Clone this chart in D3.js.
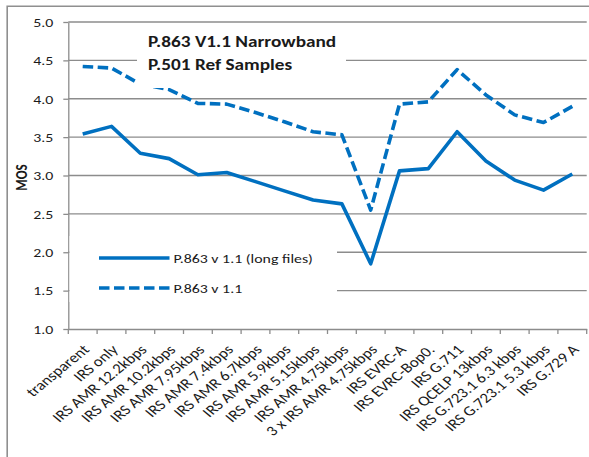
<!DOCTYPE html>
<html>
<head>
<meta charset="utf-8">
<script src="https://cdn.jsdelivr.net/npm/d3@7"></script>
<style>
  body { margin: 0; background: #fff; }
  svg { display: block; }
  text { font-family: Calibri, "Liberation Sans", Arial, sans-serif; fill: #1a1a1a; }
</style>
</head>
<body>
<svg id="chart" width="589" height="457"></svg>
<script>
// Test conditions along the x axis
const categories = [
  "transparent", "IRS only", "IRS AMR 12.2kbps", "IRS AMR 10.2kbps",
  "IRS AMR 7.95kbps", "IRS AMR 7.4kbps", "IRS AMR 6.7kbps", "IRS AMR 5.9kbps",
  "IRS AMR 5.15kbps", "IRS AMR 4.75kbps", "3 x IRS AMR 4.75kbps", "IRS EVRC-A",
  "IRS EVRC-Bop0.", "IRS G.711", "IRS QCELP 13kbps", "IRS G.723.1 6.3 kbps",
  "IRS G.723.1 5.3 kbps", "IRS G.729 A"
];

// MOS predicted by P.863 v1.1 on long files (solid line)
const longFiles = [3.54, 3.64, 3.29, 3.22, 3.01, 3.04, 2.92, 2.80, 2.68, 2.63,
                   1.85, 3.06, 3.09, 3.57, 3.19, 2.94, 2.81, 3.02];

// MOS predicted by P.863 v1.1 (dashed line)
const standard = [4.42, 4.40, 4.19, 4.12, 3.94, 3.93, 3.82, 3.70, 3.57, 3.53,
                  2.55, 3.93, 3.96, 4.38, 4.05, 3.79, 3.69, 3.90];

const yTicks = [1.0, 1.5, 2.0, 2.5, 3.0, 3.5, 4.0, 4.5, 5.0];
const seriesNames = ["P.863 v 1.1 (long files)", "P.863 v 1.1"];
const titleLines = ["P.863 V1.1 Narrowband", "P.501 Ref Samples"];
const yTitle = "MOS";

// Text is drawn slightly wide, as in the original sheet export
const SX = 1.22;
const BLUE = "#0070C0";
const GRID = "#8c8c8c";
const FONT_PX = "13px";

const svg = d3.select("#chart");

const plot = { left: 68.3, right: 586.7, top: 22, bottom: 329 };

const x = d3.scaleBand().domain(categories).range([plot.left, plot.right]).padding(0);
const y = d3.scaleLinear().domain([1, 5]).range([plot.bottom, plot.top]);
const cx = c => x(c) + x.bandwidth() / 2;

// Outer chart frame (only its left and top edges fall inside the view)
svg.append("path")
  .attr("d", `M7.2,${457 + 5}V6.2H${589 + 5}`)
  .attr("fill", "none")
  .attr("stroke", "#8f8f8f")
  .attr("stroke-width", 1.6);

// Horizontal gridlines
svg.append("g")
  .selectAll("line")
  .data(yTicks.filter(t => t > 1))
  .join("line")
  .attr("x1", plot.left).attr("x2", plot.right)
  .attr("y1", d => y(d)).attr("y2", d => y(d))
  .attr("stroke", GRID).attr("stroke-width", 1.3);

// Y axis
const yAxis = svg.append("g")
  .attr("transform", `translate(${plot.left},0)`)
  .call(d3.axisLeft(y).tickValues(yTicks).tickSize(5).tickSizeOuter(0)
    .tickFormat(d3.format(".1f")));
yAxis.select(".domain").attr("stroke", GRID).attr("stroke-width", 1.3);
yAxis.selectAll(".tick line").attr("stroke", GRID).attr("stroke-width", 1.3);
yAxis.selectAll(".tick text")
  .attr("x", 0).attr("dy", null)
  .attr("transform", `translate(-15,4.3) scale(${SX},1)`)
  .attr("text-anchor", "end")
  .style("font-size", FONT_PX)
  .attr("fill", "#1a1a1a");

// X axis: labels at band centres
const xAxis = svg.append("g")
  .attr("transform", `translate(0,${plot.bottom})`)
  .call(d3.axisBottom(x).tickSize(0).tickSizeOuter(0));
xAxis.select(".domain").attr("stroke", GRID).attr("stroke-width", 1.3);
xAxis.selectAll(".tick text")
  .attr("y", 0).attr("dy", null)
  .attr("transform", `translate(7.5,21.5) scale(${SX},1) rotate(-45)`)
  .attr("text-anchor", "end")
  .style("font-size", "14px")
  .attr("fill", "#1a1a1a");

// X axis tick marks sit on the band boundaries
const boundaries = categories.map(c => x(c)).concat([x.range()[1]]);
svg.append("g")
  .selectAll("line")
  .data(boundaries)
  .join("line")
  .attr("x1", d => d).attr("x2", d => d)
  .attr("y1", plot.bottom).attr("y2", plot.bottom + 5)
  .attr("stroke", GRID).attr("stroke-width", 1.3);

// Y axis title
svg.append("text")
  .attr("transform", `translate(26.5,${(plot.top + plot.bottom) / 2 + 2}) scale(${SX},1) rotate(-90)`)
  .attr("text-anchor", "middle")
  .style("font-size", "13px")
  .style("font-weight", "bold")
  .attr("fill", "#000")
  .text(yTitle);

// Series lines
const line = d3.line()
  .x((d, i) => cx(categories[i]))
  .y(d => y(d));

svg.append("path")
  .datum(standard)
  .attr("d", line)
  .attr("fill", "none")
  .attr("stroke", BLUE)
  .attr("stroke-width", 3.6)
  .attr("stroke-dasharray", "10.5,4.5")
  .attr("stroke-linejoin", "round");

svg.append("path")
  .datum(longFiles)
  .attr("d", line)
  .attr("fill", "none")
  .attr("stroke", BLUE)
  .attr("stroke-width", 3.6)
  .attr("stroke-linejoin", "round");

// Chart title box
const titleG = svg.append("g");
titleG.append("rect")
  .attr("x", 137).attr("y", 28).attr("width", 209).attr("height", 60)
  .attr("fill", "#fff");
titleG.selectAll("text")
  .data(titleLines)
  .join("text")
  .attr("transform", (d, i) => `translate(148,${46.7 + i * 22.8}) scale(${SX},1)`)
  .style("font-size", "15.8px")
  .style("font-weight", "bold")
  .attr("fill", "#000")
  .text(d => d);

// Legend box
const legend = svg.append("g");
legend.append("rect")
  .attr("x", 69.5).attr("y", 236).attr("width", 267.5).attr("height", 66)
  .attr("fill", "#fff");
const legendRows = [
  { name: seriesNames[0], dash: null, y: 258 },
  { name: seriesNames[1], dash: "10.5,4.5", y: 288 }
];
const rows = legend.selectAll("g.row").data(legendRows).join("g").attr("class", "row");
rows.append("line")
  .attr("x1", 99).attr("x2", 169.5)
  .attr("y1", d => d.y).attr("y2", d => d.y)
  .attr("stroke", BLUE).attr("stroke-width", 3.6)
  .attr("stroke-dasharray", d => d.dash);
rows.append("text")
  .attr("transform", d => `translate(173.5,${d.y + 4.5}) scale(${SX},1)`)
  .style("font-size", FONT_PX)
  .attr("fill", "#1a1a1a")
  .text(d => d.name);
</script>
</body>
</html>
